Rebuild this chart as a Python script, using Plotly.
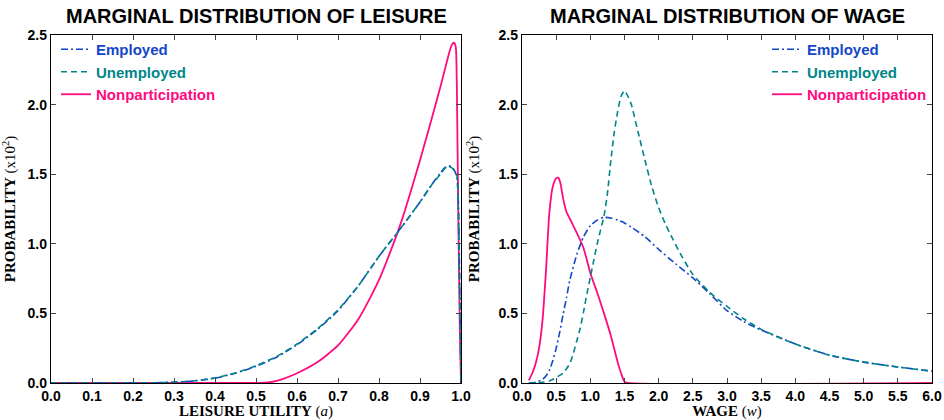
import plotly.graph_objects as go

# Marginal distribution of leisure utility (a)
leisure_emp_x = [0.0, 0.05, 0.1, 0.15, 0.2, 0.25, 0.3, 0.35, 0.4, 0.45, 0.5, 0.55, 0.6, 0.65,
                 0.7, 0.75, 0.8, 0.85, 0.9, 0.93, 0.95, 0.96, 0.97, 0.98, 0.985, 0.99, 0.993,
                 0.996, 1.0]
leisure_emp_y = [0.0, 0.0, 0.0, 0.0, 0.001, 0.002, 0.006, 0.015, 0.035, 0.07, 0.12, 0.185,
                 0.275, 0.385, 0.52, 0.7, 0.91, 1.1, 1.3, 1.43, 1.51, 1.545, 1.56, 1.545,
                 1.52, 1.48, 1.35, 0.9, 0.0]
leisure_unemp_y = [0.0, 0.0, 0.0, 0.0, 0.001, 0.002, 0.006, 0.016, 0.037, 0.072, 0.124,
                   0.19, 0.28, 0.39, 0.525, 0.7, 0.91, 1.1, 1.3, 1.43, 1.5, 1.54, 1.555,
                   1.54, 1.52, 1.49, 1.3, 0.8, 0.0]
leisure_nonp_x = [0.0, 0.45, 0.5, 0.52, 0.55, 0.6, 0.65, 0.7, 0.75, 0.8, 0.85, 0.9, 0.95,
                  0.97, 0.975, 0.98, 0.983, 0.986, 0.988, 0.99, 0.993, 0.997, 1.0]
leisure_nonp_y = [0.0, 0.0, 0.0, 0.002, 0.015, 0.07, 0.15, 0.27, 0.46, 0.74, 1.12, 1.6,
                  2.13, 2.36, 2.41, 2.44, 2.445, 2.43, 2.39, 2.1, 1.3, 0.4, 0.0]

# Marginal distribution of wage (w)
wage_emp_x = [0.1, 0.2, 0.3, 0.35, 0.4, 0.45, 0.5, 0.55, 0.6, 0.65, 0.7, 0.8, 0.9, 1.0, 1.1,
              1.2, 1.3, 1.4, 1.5, 1.6, 1.8, 2.0, 2.25, 2.5, 2.75, 3.0, 3.25, 3.5, 3.75, 4.0,
              4.5, 5.0, 5.5, 6.0]
wage_emp_y = [0.0, 0.005, 0.025, 0.05, 0.09, 0.16, 0.25, 0.36, 0.49, 0.61, 0.74, 0.92, 1.05,
              1.13, 1.17, 1.19, 1.185, 1.17, 1.15, 1.12, 1.05, 0.96, 0.855, 0.755, 0.64, 0.52,
              0.44, 0.38, 0.33, 0.28, 0.2, 0.15, 0.115, 0.085]
wage_unemp_x = [0.1, 0.2, 0.3, 0.4, 0.45, 0.5, 0.6, 0.7, 0.75, 0.8, 0.85, 0.9, 0.95, 1.0, 1.05,
                1.1, 1.15, 1.2, 1.25, 1.3, 1.35, 1.4, 1.45, 1.5, 1.55, 1.6, 1.7, 1.8, 1.9, 2.0,
                2.1, 2.2, 2.35, 2.5, 2.75, 3.0, 3.25, 3.5, 3.75, 4.0, 4.5, 5.0, 5.5, 6.0]
wage_unemp_y = [0.0, 0.0, 0.005, 0.015, 0.025, 0.04, 0.07, 0.14, 0.21, 0.3, 0.39, 0.51, 0.64,
                0.76, 0.88, 1.0, 1.1, 1.2, 1.36, 1.6, 1.8, 1.95, 2.06, 2.1, 2.06, 2.0, 1.8,
                1.6, 1.41, 1.26, 1.14, 1.04, 0.9, 0.78, 0.65, 0.55, 0.46, 0.385, 0.33, 0.28,
                0.2, 0.15, 0.115, 0.085]
wage_nonp_x = [0.1, 0.15, 0.2, 0.25, 0.3, 0.35, 0.4, 0.45, 0.5, 0.53, 0.56, 0.6, 0.65, 0.7,
               0.75, 0.8, 0.9, 1.0, 1.1, 1.2, 1.3, 1.4, 1.45, 1.5, 1.55, 6.0]
wage_nonp_y = [0.02, 0.07, 0.14, 0.25, 0.45, 0.8, 1.22, 1.41, 1.47, 1.475, 1.44, 1.33, 1.23,
               1.18, 1.13, 1.08, 0.97, 0.79, 0.65, 0.5, 0.34, 0.15, 0.07, 0.01, 0.0, 0.0]

series_names = ["Employed", "Unemployed", "Nonparticipation"]
series_colors = ["#1447c8", "#00868a", "#ff0a80"]
series_dash = ["7px,3px,2px,3px", "6px,4px", "solid"]
series_width = [1.6, 1.6, 1.8]

W, H = 944, 420
X1 = [51 / W, 461 / W]
X2 = [522 / W, 932 / W]
YD = [(H - 383) / H, (H - 35) / H]

fig = go.Figure()

panels = [
    ("x", "y", "legend",
     [(leisure_emp_x, leisure_emp_y), (leisure_emp_x, leisure_unemp_y),
      (leisure_nonp_x, leisure_nonp_y)]),
    ("x2", "y2", "legend2",
     [(wage_emp_x, wage_emp_y), (wage_unemp_x, wage_unemp_y),
      (wage_nonp_x, wage_nonp_y)]),
]

for xa, ya, lg, data in panels:
    # nonparticipation first so the dashed curves sit on top
    for i in [2, 0, 1]:
        xs, ys = data[i]
        fig.add_trace(go.Scatter(
            x=xs, y=ys, mode="lines", xaxis=xa, yaxis=ya, legend=lg,
            name=f"<b><span style='color:{series_colors[i]}'>{series_names[i]}</span></b>",
            line=dict(color=series_colors[i], width=series_width[i], dash=series_dash[i],
                      shape="spline", smoothing=0.6),
            legendrank=i + 1,
        ))

tick_font = dict(family="Liberation Sans, Arial, sans-serif", size=14, color="black",
                 weight="bold")
axis_title_font = dict(family="Liberation Serif, Times New Roman, serif", size=15,
                       color="black")

common_axis = dict(showline=True, linecolor="black", linewidth=1.3, mirror="ticks",
                   ticks="inside", ticklen=5, tickwidth=1, tickcolor="#444",
                   showgrid=False, zeroline=False, tickfont=tick_font, tickformat=".1f",
                   automargin=False)

fig.update_layout(
    width=W, height=H,
    margin=dict(l=0, r=0, t=0, b=0),
    paper_bgcolor="white", plot_bgcolor="white",
    xaxis=dict(domain=X1, range=[0, 1], dtick=0.1, tick0=0, anchor="y",
               title=dict(text="<b>LEISURE UTILITY</b> (<i>a</i>)", font=axis_title_font),
               **common_axis),
    yaxis=dict(domain=YD, range=[0, 2.5], dtick=0.5, tick0=0, anchor="x",
               title=dict(text="<b>PROBABILITY</b> (x10<sup>2</sup>)", font=axis_title_font),
               **common_axis),
    xaxis2=dict(domain=X2, range=[0, 6], dtick=0.5, tick0=0, anchor="y2",
                title=dict(text="<b>WAGE</b> (<i>w</i>)", font=axis_title_font),
                **common_axis),
    yaxis2=dict(domain=YD, range=[0, 2.5], dtick=0.5, tick0=0, anchor="x2",
                title=dict(text="<b>PROBABILITY</b> (x10<sup>2</sup>)", font=axis_title_font),
                **common_axis),
    legend=dict(x=56 / W, y=1 - 33 / H, xanchor="left", yanchor="top",
                bgcolor="rgba(0,0,0,0)", itemwidth=30, tracegroupgap=0,
                font=dict(family="Liberation Sans, Arial, sans-serif", size=15)),
    legend2=dict(x=767 / W, y=1 - 33 / H, xanchor="left", yanchor="top",
                 bgcolor="rgba(0,0,0,0)", itemwidth=30, tracegroupgap=0,
                 font=dict(family="Liberation Sans, Arial, sans-serif", size=15)),
    showlegend=True,
)

title_font = dict(family="Liberation Sans, Arial, sans-serif", size=20, color="black",
                  weight="bold")
for text, dom in [("MARGINAL DISTRIBUTION OF LEISURE", X1),
                  ("MARGINAL DISTRIBUTION OF WAGE", X2)]:
    fig.add_annotation(text=text, x=(dom[0] + dom[1]) / 2, y=1 - 16 / H,
                       xref="paper", yref="paper", showarrow=False,
                       xanchor="center", yanchor="middle", font=title_font)

fig.write_html("out.html")
